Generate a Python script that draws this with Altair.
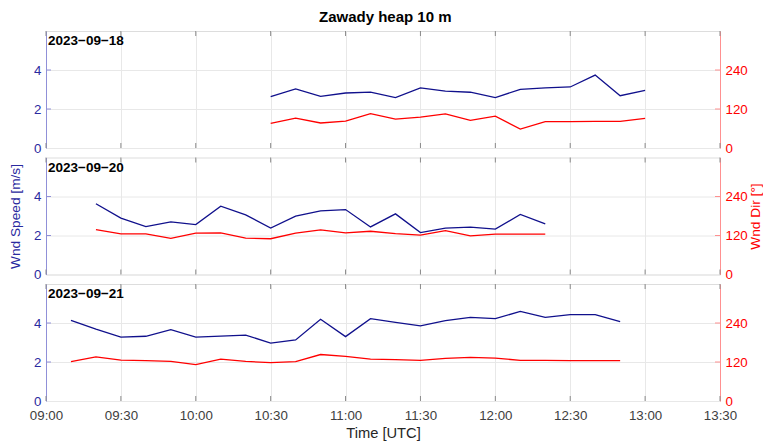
import altair as alt
import pandas as pd

FONT = "Liberation Sans"
BLUE_LINE = "#10108c"
BLUE_TEXT = "#2a2aa0"
BLUE_AXIS = "#9090d8"
RED = "#ff0000"
RED_AXIS = "#ff9090"
GRID = "#e8e8e8"
BOX = "#a8a8a8"

TITLE = "Zawady heap 10 m"
X_TICK_LABELS = ["09:00", "09:30", "10:00", "10:30", "11:00", "11:30",
                 "12:00", "12:30", "13:00", "13:30"]
SPD_TICKS = [0, 2, 4]
DIR_TICKS = [0, 120, 240]

# 2023-09-18
DATE_1 = "2023−09−18"
TIMES_1 = ["10:30", "10:40", "10:50", "11:00", "11:10", "11:20", "11:30", "11:40",
           "11:50", "12:00", "12:10", "12:20", "12:30", "12:40", "12:50", "13:00"]
SPD_1 = [2.63, 3.03, 2.65, 2.82, 2.87, 2.58, 3.08, 2.92,
         2.86, 2.58, 3.01, 3.08, 3.13, 3.74, 2.68, 2.96]
DIR_1 = [76, 92, 77, 83, 106, 89, 95, 105,
         85, 98, 58, 81, 81, 82, 82, 91]

# 2023-09-20
DATE_2 = "2023−09−20"
TIMES_2 = ["09:20", "09:30", "09:40", "09:50", "10:00", "10:10", "10:20", "10:30",
           "10:40", "10:50", "11:00", "11:10", "11:20", "11:30", "11:40", "11:50",
           "12:00", "12:10", "12:20"]
SPD_2 = [3.63, 2.89, 2.46, 2.70, 2.56, 3.50, 3.06, 2.38,
         2.99, 3.26, 3.33, 2.44, 3.11, 2.15, 2.38, 2.43,
         2.33, 3.08, 2.60]
DIR_2 = [138, 125, 125, 111, 127, 128, 112, 110,
         127, 137, 128, 133, 126, 121, 135, 119,
         124, 124, 124]

# 2023-09-21
DATE_3 = "2023−09−21"
TIMES_3 = ["09:10", "09:20", "09:30", "09:40", "09:50", "10:00", "10:10", "10:20",
           "10:30", "10:40", "10:50", "11:00", "11:10", "11:20", "11:30", "11:40",
           "11:50", "12:00", "12:10", "12:20", "12:30", "12:40", "12:50"]
SPD_3 = [4.14, 3.69, 3.28, 3.32, 3.66, 3.28, 3.33, 3.38,
         2.97, 3.13, 4.19, 3.30, 4.22, 4.03, 3.85, 4.12,
         4.29, 4.22, 4.60, 4.29, 4.43, 4.43, 4.07]
DIR_3 = [121, 136, 126, 124, 122, 112, 129, 122,
         118, 121, 143, 137, 129, 127, 125, 131,
         134, 132, 125, 125, 124, 124, 124]


def to_min(hhmm):
    h, m = hhmm.split(":")
    return int(h) * 60 + int(m)


X_TICKS = [to_min(t) for t in X_TICK_LABELS]
W, H = 674, 117
TICK_LEN = 5

LABEL_EXPR = ("(floor(datum.value/60)<10?'0':'')+floor(datum.value/60)+':'"
              "+(datum.value%60<10?'0':'')+(datum.value%60)")

x_scale = alt.Scale(domain=[X_TICKS[0], X_TICKS[-1]], nice=False, zero=False)
spd_scale = alt.Scale(domain=[0, 6], nice=False, zero=False)
dir_scale = alt.Scale(domain=[0, 360], nice=False, zero=False)


def panel(date, times, spd, dirs, left_title=None, bottom=False):
    df = pd.DataFrame({"t": [to_min(t) for t in times], "spd": spd, "dir": dirs})
    base = alt.Chart(df)

    x_axis = alt.Axis(
        values=X_TICKS, grid=True, gridColor=GRID, gridWidth=1,
        labels=bottom, labelExpr=LABEL_EXPR, labelFont=FONT, labelFontSize=13.3,
        labelColor="#404040", labelPadding=7, labelFlush=False,
        ticks=False, tickSize=0, domain=False,
        title="Time [UTC]" if bottom else None,
        titleFont=FONT, titleFontSize=14.7, titleFontWeight="normal",
        titleColor="#262626", titlePadding=4,
    )

    speed = base.mark_line(color=BLUE_LINE, strokeWidth=1.3).encode(
        x=alt.X("t:Q", scale=x_scale, axis=x_axis),
        y=alt.Y("spd:Q", scale=spd_scale, axis=alt.Axis(
            orient="left", values=SPD_TICKS, grid=True, gridColor=GRID,
            labelColor=BLUE_TEXT, labelFont=FONT, labelFontSize=13.3, labelPadding=5,
            labelFlush=False,
            ticks=False, tickSize=0, domainColor=BLUE_AXIS, domainWidth=1,
            title=left_title, titleColor=BLUE_TEXT, titleFont=FONT,
            titleFontSize=13.7, titleFontWeight="normal", titlePadding=11,
        )),
    )

    direction = base.mark_line(color=RED, strokeWidth=1.3).encode(
        x=alt.X("t:Q", scale=x_scale),
        y=alt.Y("dir:Q", scale=dir_scale, axis=alt.Axis(
            orient="right", values=DIR_TICKS, grid=False,
            labelColor=RED, labelFont=FONT, labelFontSize=13.3, labelPadding=5,
            labelFlush=False,
            ticks=False, tickSize=0, domainColor=RED_AXIS, domainWidth=1,
            title="Wnd Dir [°]" if left_title else None, titleColor=RED,
            titleFont=FONT, titleFontSize=13.7, titleFontWeight="normal",
            titleAngle=270, titleBaseline="top", titlePadding=1,
        )),
    )

    xt = alt.Chart(pd.DataFrame({"t": X_TICKS}))
    top_ticks = xt.mark_rule(color="#8a8a8a", strokeWidth=1).encode(
        x=alt.X("t:Q", scale=x_scale), y=alt.value(0), y2=alt.value(TICK_LEN))
    bot_ticks = xt.mark_rule(color="#8a8a8a", strokeWidth=1).encode(
        x=alt.X("t:Q", scale=x_scale), y=alt.value(H), y2=alt.value(H - TICK_LEN))

    lt = alt.Chart(pd.DataFrame({"v": SPD_TICKS[1:]}))
    left_ticks = lt.mark_rule(color=BLUE_AXIS, strokeWidth=1).encode(
        y=alt.Y("v:Q", scale=spd_scale, axis=None),
        x=alt.value(0), x2=alt.value(TICK_LEN))
    rt = alt.Chart(pd.DataFrame({"v": DIR_TICKS[1:]}))
    right_ticks = rt.mark_rule(color=RED_AXIS, strokeWidth=1).encode(
        y=alt.Y("v:Q", scale=dir_scale, axis=None),
        x=alt.value(W - TICK_LEN), x2=alt.value(W))

    label = alt.Chart(pd.DataFrame({"d": [date]})).mark_text(
        align="left", baseline="top", font=FONT, fontSize=13.5,
        fontWeight="bold", color="black",
    ).encode(x=alt.value(2), y=alt.value(3), text="d:N")

    return alt.layer(
        speed, direction, top_ticks, bot_ticks, left_ticks, right_ticks, label
    ).resolve_scale(y="independent").properties(width=W, height=H)


p1 = panel(DATE_1, TIMES_1, SPD_1, DIR_1)
p2 = panel(DATE_2, TIMES_2, SPD_2, DIR_2, left_title="Wnd Speed [m/s]")
p3 = panel(DATE_3, TIMES_3, SPD_3, DIR_3, bottom=True)

chart = alt.vconcat(p1, p2, p3, spacing=9.5, bounds="flush").properties(
    title=alt.TitleParams(TITLE, font=FONT, fontSize=15, fontWeight="bold",
                          color="black", anchor="middle", offset=5),
    padding={"left": 8, "top": 10, "right": 0, "bottom": 0},
).configure_view(stroke=BOX, strokeWidth=1).configure(background="white")

chart.save("out.html", embed_options={"renderer": "svg", "actions": False})
